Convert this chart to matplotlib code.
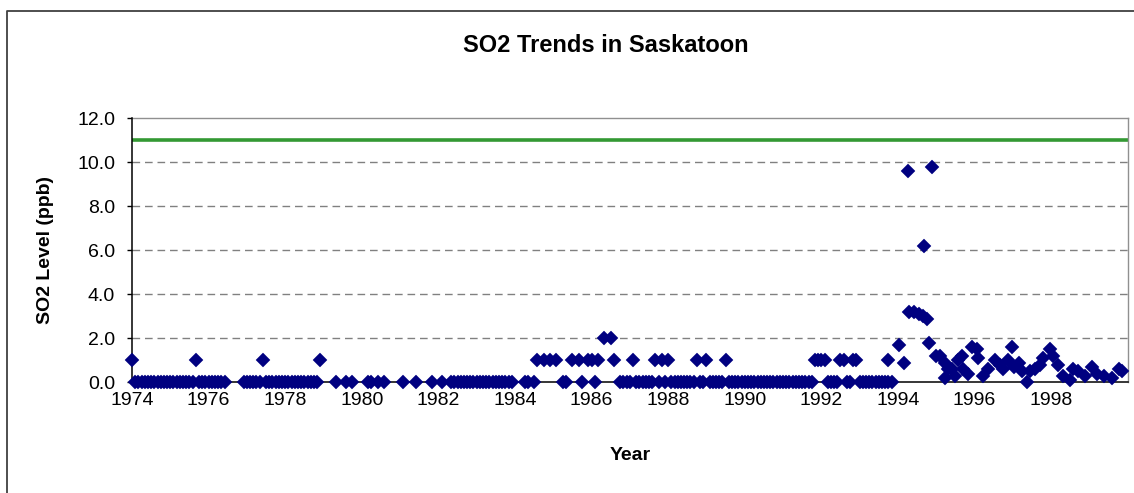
import matplotlib as mpl
mpl.use('Agg')
import matplotlib.pyplot as plt
from matplotlib.lines import Line2D

plt.rcParams['font.family'] = ['Liberation Sans', 'DejaVu Sans']

# Monthly readings 1974-1993, one string per year, Jan..Dec
# '0', '1', '2' = reading in ppb, '.' = no reading that month
code_years = list(range(1974, 1994))
monthly_codes = [
    "100000000000",  # 1974
    "000000001000",  # 1975
    "000000.....0",  # 1976
    "000001000000",  # 1977
    "000000000001",  # 1978
    "....0..0.0..",  # 1979
    "..00.0.0....",  # 1980
    ".0...0....0.",  # 1981
    ".0..00000000",  # 1982
    "000000000000",  # 1983
    "...00.01.1.1",  # 1984
    ".1.00.1.10.1",  # 1985
    "101.2.21.000",  # 1986
    "010000001010",  # 1987
    "100000000100",  # 1988
    "100000100000",  # 1989
    "000000000000",  # 1990
    "000000000011",  # 1991
    "110000110011",  # 1992
    "00000000000.",  # 1993
]

# Late 1993 onwards: readings with decimals
late_dates = [1993.75, 1994.03, 1994.16, 1994.26, 1994.29, 1994.41, 1994.54,
              1994.65, 1994.68, 1994.75, 1994.82, 1994.88, 1995.00, 1995.10,
              1995.23, 1995.23, 1995.30, 1995.40, 1995.49, 1995.58, 1995.67,
              1995.71, 1995.84, 1995.93, 1996.06, 1996.10, 1996.23, 1996.36,
              1996.54, 1996.67, 1996.75, 1996.88, 1996.97, 1997.02, 1997.15,
              1997.23, 1997.36, 1997.45, 1997.58, 1997.71, 1997.80, 1997.97,
              1998.06, 1998.19, 1998.32, 1998.50, 1998.58, 1998.71, 1998.89,
              1999.06, 1999.19, 1999.37, 1999.58, 1999.76, 1999.84]
late_values = [1.0, 1.7, 0.9, 9.6, 3.2, 3.2, 3.1, 3.0, 6.2, 2.9, 1.8, 9.8,
               1.2, 1.2, 0.9, 0.2, 0.6, 0.6, 0.3, 1.0, 1.2, 0.6, 0.4, 1.6,
               1.5, 1.1, 0.3, 0.6, 1.0, 0.8, 0.6, 1.0, 1.6, 0.7, 0.9, 0.5,
               0.0, 0.5, 0.6, 0.8, 1.1, 1.5, 1.2, 0.8, 0.3, 0.1, 0.6, 0.5,
               0.3, 0.7, 0.4, 0.3, 0.2, 0.6, 0.5]

guideline = 11.0
year_ticks = list(range(1974, 1999, 2))
level_ticks = [0, 2, 4, 6, 8, 10, 12]

dates = []
values = []
for year, code in zip(code_years, monthly_codes):
    for month, c in enumerate(code):
        if c != '.':
            dates.append(year + month / 12.0)
            values.append(float(c))
dates += late_dates
values += late_values

W, H = 1134, 493
fig = plt.figure(figsize=(W / 100, H / 100), dpi=100)
fig.patch.set_facecolor('white')

# plot area in pixels: left 132, right 1128, top 118, bottom 382
ax = fig.add_axes([132 / W, 1 - 382.3 / H, (1127.7 - 132) / W, (382.3 - 118.3) / H])

ax.set_xlim(1974, 2000)
ax.set_ylim(0, 12)

for lev in level_ticks[1:-1]:
    ax.axhline(lev, color='#808080', lw=1.0, dashes=(5.5, 3.5), zorder=1)
ax.axhline(guideline, color='#339933', lw=2.6, zorder=2)

ax.plot(dates, values, 'D', ls='none', color='#000080', ms=7.6,
        mec='#000080', mew=0.3, clip_on=False, zorder=4)

ax.set_xticks(year_ticks)
ax.set_xticklabels([str(y) for y in year_ticks])
ax.set_yticks(level_ticks)
ax.set_yticklabels(['%.1f' % v for v in level_ticks])
ax.tick_params(axis='x', length=0, pad=7, labelsize=14)
ax.tick_params(axis='y', direction='out', length=3.6, width=1, pad=8.5,
               labelsize=14)

for side in ['left', 'bottom']:
    ax.spines[side].set_color('#000000')
    ax.spines[side].set_linewidth(1.1)
    ax.spines[side].set_zorder(3)
for side in ['top', 'right']:
    ax.spines[side].set_color('#909090')
    ax.spines[side].set_linewidth(1.0)

fig.text(606 / W, 1 - 45 / H, 'SO2 Trends in Saskatoon', ha='center',
         va='center', fontsize=17, fontweight='bold')
fig.text(630 / W, 1 - 455 / H, 'Year', ha='center', va='center',
         fontsize=14, fontweight='bold')
fig.text(46 / W, 1 - 250 / H, 'SO2 Level (ppb)', ha='center', va='center',
         rotation=90, fontsize=14, fontweight='bold')

# chart border (left and top edges visible)
fig.add_artist(Line2D([7 / W, 7 / W, 1.0], [0.0, 1 - 10.7 / H, 1 - 10.7 / H],
                      transform=fig.transFigure, color='#404040', lw=1.3))

fig.savefig('out.png', dpi=100, facecolor='white')
